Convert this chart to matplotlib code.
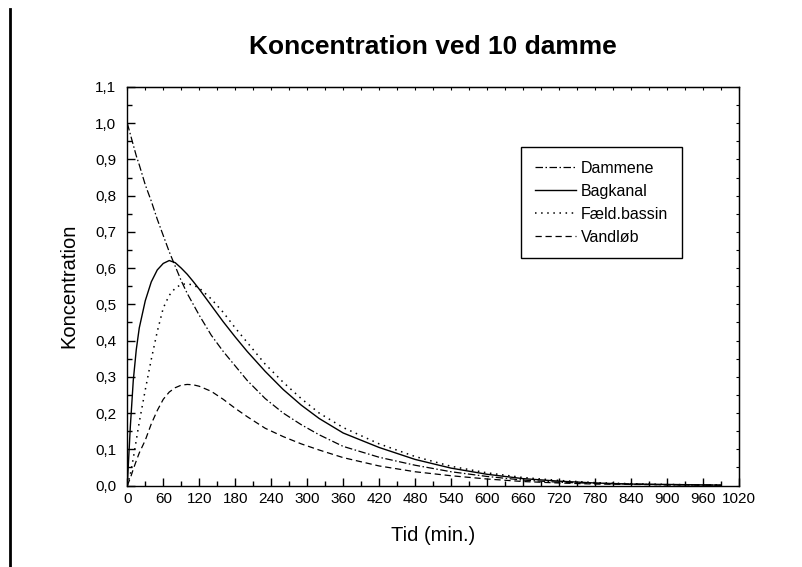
import matplotlib
matplotlib.use("Agg")
import matplotlib.pyplot as plt
import numpy as np
from matplotlib.lines import Line2D
from matplotlib.ticker import MultipleLocator, FuncFormatter

plt.rcParams['font.family'] = ['Liberation Sans', 'DejaVu Sans']

# tid i minutter
tid = [0, 5, 10, 15, 20, 30, 40, 50, 60, 70, 80, 90, 100, 110, 120, 140, 160,
       180, 200, 230, 260, 290, 320, 360, 420, 480, 540, 600, 660, 720, 780,
       840, 900, 990]

dammene = [1.00, 0.97, 0.94, 0.91, 0.885, 0.83, 0.785, 0.735, 0.69, 0.645,
           0.605, 0.565, 0.53, 0.50, 0.47, 0.415, 0.37, 0.33, 0.29, 0.24,
           0.20, 0.168, 0.14, 0.108, 0.078, 0.056, 0.038, 0.025, 0.015,
           0.009, 0.006, 0.004, 0.002, 0.001]
bagkanal = [0.0, 0.16, 0.29, 0.375, 0.435, 0.51, 0.562, 0.595, 0.613, 0.621,
            0.615, 0.60, 0.583, 0.563, 0.542, 0.497, 0.452, 0.41, 0.37, 0.315,
            0.265, 0.222, 0.185, 0.145, 0.105, 0.072, 0.048, 0.031, 0.019,
            0.012, 0.007, 0.004, 0.003, 0.001]
faeld = [0.0, 0.03, 0.075, 0.125, 0.175, 0.264, 0.348, 0.425, 0.49, 0.525,
         0.545, 0.555, 0.557, 0.553, 0.545, 0.515, 0.478, 0.435, 0.395, 0.335,
         0.285, 0.24, 0.20, 0.16, 0.115, 0.08, 0.053, 0.035, 0.022, 0.014,
         0.008, 0.005, 0.003, 0.001]
vandlob = [0.0, 0.02, 0.045, 0.068, 0.09, 0.125, 0.17, 0.207, 0.238, 0.258,
           0.27, 0.277, 0.279, 0.278, 0.274, 0.26, 0.238, 0.213, 0.19, 0.158,
           0.135, 0.115, 0.098, 0.077, 0.054, 0.038, 0.027, 0.018, 0.011,
           0.007, 0.004, 0.003, 0.002, 0.001]

navne = ['Dammene', 'Bagkanal', 'Fæld.bassin', 'Vandløb']

fig = plt.figure(figsize=(8.02, 5.67), dpi=100)
ax = fig.add_axes([0.1587, 0.1437, 0.7627, 0.7029])

ax.plot(tid, dammene, color='black', lw=0.9, dashes=(6, 2, 1.2, 2), label=navne[0])
ax.plot(tid, bagkanal, color='black', lw=1.0, ls='-', label=navne[1])
ax.plot(tid, faeld, color='black', lw=1.1, dashes=(1, 3), label=navne[2])
ax.plot(tid, vandlob, color='black', lw=0.9, dashes=(5, 3), label=navne[3])

ax.set_xlim(0, 1020)
ax.set_ylim(0, 1.1)
ax.xaxis.set_major_locator(MultipleLocator(60))
ax.xaxis.set_minor_locator(MultipleLocator(30))
ax.yaxis.set_major_locator(MultipleLocator(0.1))
ax.yaxis.set_minor_locator(MultipleLocator(0.05))
ax.yaxis.set_major_formatter(FuncFormatter(lambda v, p: f"{v:.1f}".replace('.', ',')))
ax.tick_params(which='major', direction='in', length=6, width=1, labelsize=11, pad=5)
ax.tick_params(which='minor', direction='in', length=3.5, width=1)
ax.tick_params(axis='y', which='major', pad=8)
for s in ax.spines.values():
    s.set_linewidth(1.0)

# små ticks paa top og hoejre side
top = ax.secondary_xaxis('top')
top.xaxis.set_major_locator(MultipleLocator(30))
top.tick_params(direction='in', length=2, labeltop=False)
right = ax.secondary_yaxis('right')
right.yaxis.set_major_locator(MultipleLocator(0.05))
right.tick_params(direction='in', length=2, labelright=False)

ax.set_title('Koncentration ved 10 damme', fontsize=19, fontweight='bold', pad=24)
ax.set_xlabel('Tid (min.)', fontsize=14.5, labelpad=14)
ax.set_ylabel('Koncentration', fontsize=14.5, labelpad=12)

leg = ax.legend(loc='upper right', bbox_to_anchor=(0.907, 0.849), borderaxespad=0,
                fontsize=11.5, handlelength=2.6, handletextpad=0.3,
                labelspacing=0.5, borderpad=0.85, fancybox=False, framealpha=1)
leg.get_frame().set_edgecolor('black')
leg.get_frame().set_linewidth(1.0)

# lodret streg i venstre side
fig.add_artist(Line2D([0.0125, 0.0125], [0.0, 0.984], color='black', lw=2))

fig.savefig('out.png', dpi=100)
